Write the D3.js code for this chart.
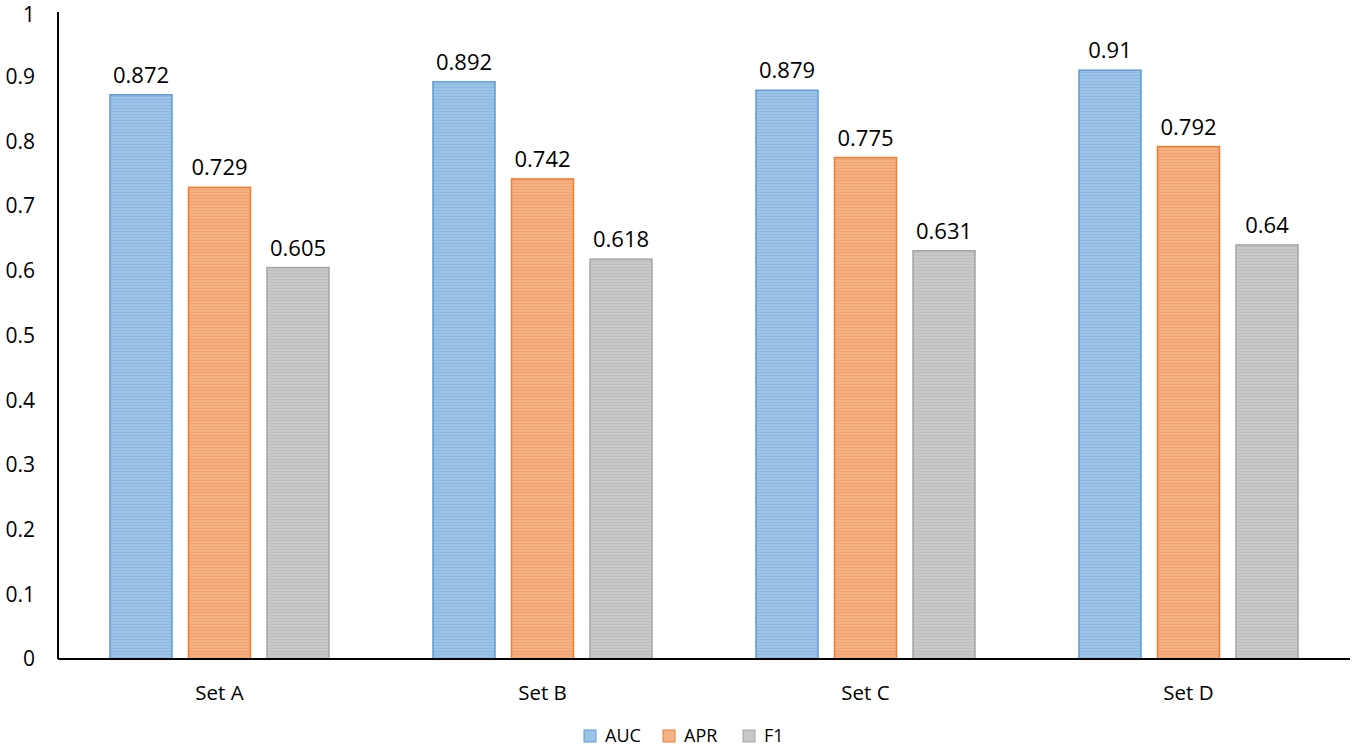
<!DOCTYPE html>
<html><head><meta charset="utf-8">
<script src="https://cdn.jsdelivr.net/npm/d3@7"></script>
<style>body{margin:0;background:#fff;}svg{display:block;font-family:"Open Sans","Noto Sans",sans-serif;}</style>
</head><body><svg id="c" width="1355" height="749"></svg>
<script>
const categories = ["Set A","Set B","Set C","Set D"];
const seriesNames = ["AUC","APR","F1"];
const auc = [0.872,0.892,0.879,0.91];
const apr = [0.729,0.742,0.775,0.792];
const f1 = [0.605,0.618,0.631,0.64];
const yTicks = [0,0.1,0.2,0.3,0.4,0.5,0.6,0.7,0.8,0.9,1];
const seriesValues = [auc,apr,f1];
const fills = ["#9dc3e6","#f4b183","#c9c9c9"];
const stripes = ["#7fb0de","#f09a5f","#b5b5b5"];
const strokes = ["#5b9bd5","#ed7d31","#a5a5a5"];

const svg = d3.select("#c");
const pLeft=58,pRight=1350,pTop=12,pBottom=659;
const x = d3.scaleBand().domain(categories).range([pLeft,pRight]);
const y = d3.scaleLinear().domain([0,1]).range([pBottom,pTop]);
const barW = 63, step = 78.5;

const defs = svg.append("defs");
fills.forEach((f,i)=>{
  const p = defs.append("pattern").attr("id","p"+i).attr("patternUnits","userSpaceOnUse").attr("width",8).attr("height",3);
  p.append("rect").attr("width",8).attr("height",3).attr("fill",f);
  p.append("rect").attr("y",0).attr("width",8).attr("height",1).attr("fill",stripes[i]).attr("opacity",0.6);
});

// y tick labels
svg.append("g").selectAll("text").data(yTicks).join("text")
  .attr("x",35).attr("y",d=>Math.max(y(d),15)).attr("dy","0.35em").attr("text-anchor","end")
  .attr("font-size",21).attr("fill","#000").text(d=>d3.format("")(d));

// bars
categories.forEach((c,ci)=>{
  const cx = x(c)+x.bandwidth()/2;
  seriesValues.forEach((vals,si)=>{
    const bx = cx + (si-1)*step - barW/2;
    const v = vals[ci];
    svg.append("rect").attr("x",bx+0.5).attr("y",y(v)).attr("width",barW-1).attr("height",pBottom-y(v))
      .attr("fill","url(#p"+si+")").attr("stroke",strokes[si]).attr("stroke-width",1.5);
    svg.append("text").attr("x",bx+barW/2).attr("y",y(v)-12).attr("text-anchor","middle")
      .attr("font-size",22).attr("fill","#000").text(v);
  });
  svg.append("text").attr("x",cx).attr("y",700).attr("text-anchor","middle")
    .attr("font-size",20.5).attr("fill","#000").text(c);
});

// axes
const xAxis = svg.append("g").attr("transform",`translate(0,${pBottom})`).call(d3.axisBottom(x).tickSize(0).tickFormat(""));
xAxis.select(".domain").attr("stroke","#000").attr("stroke-width",2).attr("d",`M${pLeft},0H${pRight}`);
const yAxis = svg.append("g").attr("transform",`translate(${pLeft},0)`).call(d3.axisLeft(y).tickSize(0).tickFormat(""));
yAxis.select(".domain").attr("stroke","#000").attr("stroke-width",2).attr("d",`M0,${pTop}V${pBottom}`);

// legend
const legX = [584,663,743];
seriesNames.forEach((n,i)=>{
  svg.append("rect").attr("x",legX[i]).attr("y",730).attr("width",12).attr("height",12)
    .attr("fill",fills[i]).attr("stroke",strokes[i]).attr("stroke-width",1);
  svg.append("text").attr("x",legX[i]+21).attr("y",736).attr("dy","0.35em")
    .attr("font-size",18).attr("fill","#000").text(n);
});
</script></body></html>
